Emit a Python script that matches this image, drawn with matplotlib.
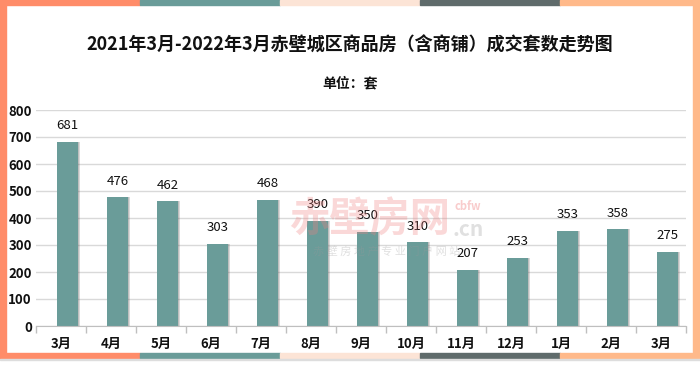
import matplotlib
matplotlib.use("Agg")
import matplotlib.pyplot as plt
from matplotlib.patches import Rectangle
import numpy as np

plt.rcParams['font.family'] = ['Noto Sans CJK SC', 'DejaVu Sans']

categories = ['3月', '4月', '5月', '6月', '7月', '8月', '9月', '10月', '11月', '12月', '1月', '2月', '3月']
values = [681, 476, 462, 303, 468, 390, 350, 310, 207, 253, 353, 358, 275]
yticks = [0, 100, 200, 300, 400, 500, 600, 700, 800]
title = '2021年3月-2022年3月赤壁城区商品房（含商铺）成交套数走势图'
subtitle = '单位：套'

W, H = 700, 369
fig = plt.figure(figsize=(7, 3.69), dpi=100)
fig.patch.set_facecolor('white')

def fx(px): return px / W
def fy(py): return 1 - py / H

# decorative frame
seg_cols = ['#FF8C69', '#6A9C99', '#FCE4D6', '#5F6B6B', '#FFB98A']
seg_w = 140
for k, c in enumerate(seg_cols):
    for y0 in (0, 353):
        fig.patches.append(Rectangle((fx(k * seg_w), fy(y0 + 5)), fx(seg_w), 5 / H,
                                     transform=fig.transFigure, color=c, zorder=0))
fig.patches.append(Rectangle((0, fy(358)), fx(6), 358 / H, transform=fig.transFigure,
                             color='#FF8C69', zorder=0))
fig.patches.append(Rectangle((fx(693), fy(358)), fx(7), 358 / H, transform=fig.transFigure,
                             color='#FFB98A', zorder=0))
fig.patches.append(Rectangle((0, fy(360)), 1, 1.5 / H, transform=fig.transFigure,
                             color='#DDDDDD', zorder=0))

ax = fig.add_axes([fx(36), fy(326), fx(650), (326 - 110) / H])
ax.set_facecolor('none')

x = np.arange(len(categories))
off = 0.13
bw = 0.42
ax.bar(x + off + 0.035, values, width=bw, color='#555555', alpha=0.22, zorder=2)
ax.bar(x + off + 0.02, values, width=bw, color='#555555', alpha=0.2, zorder=2)
bars = ax.bar(x + off, values, width=bw, color='#6A9C99', zorder=3)
for xi, v in zip(x, values):
    ax.annotate(str(v), (xi + off, v), xytext=(0, 7), textcoords='offset points',
                ha='center', va='bottom', fontsize=9.5, color='#111111', zorder=4)

ax.set_xlim(-0.5, len(categories) - 0.5)
ax.set_ylim(0, 800)
ax.set_yticks(yticks)
ax.set_yticklabels([str(t) for t in yticks], fontsize=9.5, fontweight='bold', color='#111111')
ax.set_xticks(x)
ax.set_xticklabels(categories, fontsize=9.5, fontweight='bold', color='#111111')
ax.set_xticks(np.arange(-0.5, len(categories), 1), minor=True)
ax.tick_params(axis='x', which='major', length=0, pad=8)
ax.tick_params(axis='x', which='minor', length=5, color='#BFBFBF', width=1)
ax.tick_params(axis='y', length=0, pad=3)
ax.grid(axis='y', color='#D9D9D9', linewidth=1, zorder=0)
for s in ('top', 'right', 'left'):
    ax.spines[s].set_visible(False)
ax.spines['bottom'].set_color('#BFBFBF')
ax.spines['bottom'].set_zorder(5)

fig.text(0.5, fy(45), title, ha='center', va='center', fontsize=13, fontweight='bold', color='#111111')
fig.text(0.5, fy(83), subtitle, ha='center', va='center', fontsize=10, fontweight='bold', color='#111111')

# watermark
fig.text(fx(370), fy(220), '赤壁房网', ha='center', va='center', fontsize=29, fontweight='bold',
         color='#F08080', alpha=0.3, zorder=1)
fig.text(fx(468), fy(206), 'cbfw', ha='center', va='center', fontsize=8, fontweight='bold',
         style='italic', color='#F08080', alpha=0.4, zorder=1)
fig.text(fx(468), fy(229), '.cn', ha='center', va='center', fontsize=15, fontweight='bold',
         color='#999999', alpha=0.3, zorder=1)
fig.text(fx(387), fy(252), '赤 壁 房 地 产 专 业 门 户 网 站', ha='center', va='center', fontsize=8,
         color='#999999', alpha=0.3, zorder=1)

fig.savefig('out.png', dpi=100, facecolor='white')
